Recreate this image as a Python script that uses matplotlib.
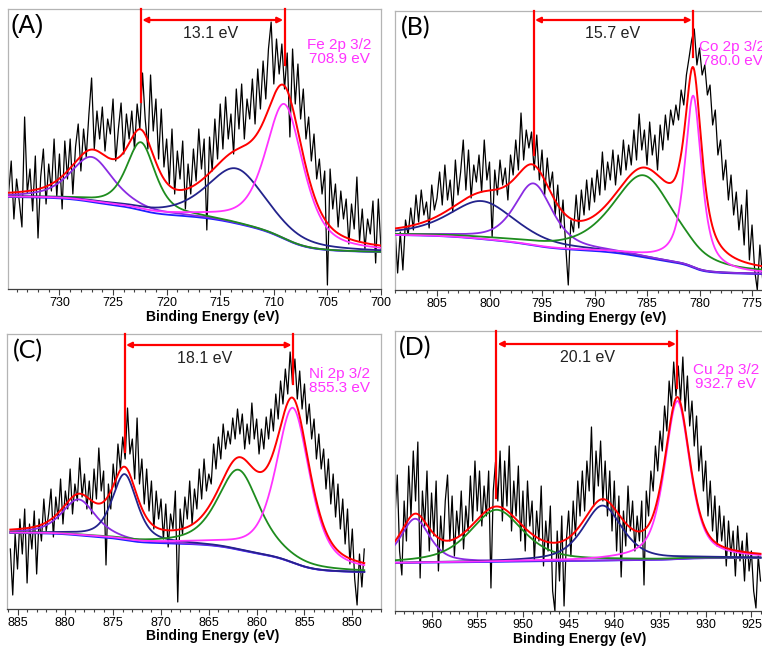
# XPS 2p spectra, four panels
import numpy as np
import matplotlib.pyplot as plt
from matplotlib.ticker import MultipleLocator

plt.rcParams['font.family'] = ['Liberation Sans', 'DejaVu Sans']

# ---- data (intensity in arbitrary units) ----
fe_start = 734.75
fe_step = 0.25
fe_counts = [95, 128, 70, 110, 88, 62, 172, 96, 120, 78, 133, 51, 112, 140, 85, 125,
             98, 150, 92, 135, 80, 148, 110, 150, 95, 142, 165, 118, 160, 132, 175, 211,
             140, 178, 150, 182, 138, 170, 155, 190, 128, 160, 186, 135, 175, 150, 178, 140,
             185, 160, 216, 170, 140, 214, 158, 190, 130, 180, 122, 150, 105, 160, 95, 138,
             110, 148, 80, 125, 95, 140, 108, 160, 120, 150, 59, 152, 118, 170, 130, 185,
             140, 192, 150, 175, 135, 200, 160, 205, 150, 190, 170, 210, 165, 220, 180, 228,
             190, 240, 267, 205, 250, 215, 245, 200, 236, 152, 240, 185, 225, 170, 200, 150,
             172, 128, 155, 110, 130, 95, 118, 4, 120, 80, 105, 62, 98, 70, 90, 45,
             85, 60, 112, 48, 80, 40, 70, 55, 88, 26, 90, 40]
fe_centers = [727.0, 722.4, 713.5, 709.0]
fe_heights = [45, 68, 55, 135]
fe_fwhm = [4.7, 3.2, 6.5, 4.2]
fe_bg = [92, 37]

co_start = 809.0
co_step = 0.25
co_counts = [62, 17, 58, 20, 70, 55, 82, 60, 95, 68, 100, 75, 88, 62, 105, 80,
             92, 118, 85, 125, 90, 110, 78, 130, 95, 118, 150, 100, 140, 92, 125, 108,
             135, 98, 150, 110, 128, 53, 120, 95, 130, 105, 122, 90, 135, 115, 150, 120,
             177, 130, 160, 142, 158, 120, 155, 110, 140, 95, 132, 102, 118, 75, 105, 62,
             90, 45, 5, 70, 58, 95, 62, 100, 75, 110, 80, 112, 88, 120, 95, 138,
             100, 128, 110, 140, 105, 135, 115, 150, 120, 145, 125, 160, 130, 176, 140, 160,
             125, 168, 135, 155, 120, 165, 140, 175, 150, 180, 165, 185, 170, 200, 185, 215,
             232, 250, 261, 225, 242, 215, 225, 195, 205, 165, 180, 135, 150, 110, 130, 90,
             115, 75, 98, 60, 85, 45, 100, 30, 65, 20, 0, 45, 12]
co_centers = [800.7, 795.8, 785.3, 780.6]
co_heights = [38, 62, 82, 172]
co_fwhm = [7.5, 4.3, 7.0, 1.9]
co_bg = [55, 16]

ni_start = 885.75
ni_step = 0.25
ni_counts = [60, 14, 75, 40, 90, 55, 100, 26, 85, 60, 98, 35, 90, 68, 110, 78,
             95, 120, 72, 112, 90, 130, 85, 118, 100, 140, 95, 125, 108, 151, 112, 135,
             100, 128, 95, 140, 110, 161, 118, 138, 44, 125, 100, 145, 120, 165, 140, 172,
             150, 201, 155, 170, 130, 191, 125, 150, 105, 140, 98, 128, 80, 118, 90, 110,
             70, 105, 62, 95, 80, 118, 7, 100, 75, 112, 90, 128, 85, 120, 100, 140,
             110, 150, 118, 135, 125, 165, 140, 172, 150, 185, 160, 178, 165, 191, 170, 200,
             175, 195, 160, 185, 165, 206, 170, 190, 155, 180, 160, 192, 170, 200, 178, 215,
             190, 228, 205, 240, 215, 257, 225, 250, 210, 238, 200, 225, 185, 205, 170, 190,
             150, 175, 140, 160, 120, 150, 105, 135, 92, 125, 80, 110, 65, 100, 45, 80,
             30, 4, 55, 22, 60]
ni_centers = [878.6, 873.8, 861.9, 856.2]
ni_heights = [36, 66, 80, 155]
ni_fwhm = [4.2, 3.1, 5.2, 4.2]
ni_bg = [76, 37]

cu_start = 964.0
cu_step = 0.25
cu_counts = [95, 136, 60, 36, 110, 70, 145, 95, 160, 110, 169, 33, 120, 85, 140, 60,
             118, 75, 130, 40, 95, 60, 110, 136, 70, 115, 55, 100, 75, 120, 62, 105,
             80, 135, 90, 150, 100, 140, 85, 125, 95, 140, 23, 120, 149, 110, 160, 90,
             150, 105, 165, 80, 130, 95, 145, 70, 120, 60, 130, 85, 110, 50, 100, 70,
             125, 45, 90, 60, 105, 20, 0, 80, 30, 95, 5, 70, 100, 55, 110, 75,
             130, 95, 140, 100, 150, 120, 184, 105, 160, 125, 170, 110, 150, 95, 140, 80,
             130, 60, 115, 34, 100, 65, 125, 80, 110, 60, 95, 70, 110, 26, 120, 95,
             140, 120, 165, 140, 180, 160, 205, 180, 230, 205, 249, 215, 245, 210, 254, 200,
             235, 185, 210, 165, 195, 140, 165, 120, 150, 95, 130, 80, 115, 65, 105, 70,
             95, 45, 90, 55, 80, 35, 85, 50, 70, 30, 78, 40, 60, 20, 3, 55, 30]
cu_centers = [961.8, 952.9, 941.3, 933.1]
cu_heights = [44, 52, 55, 158]
cu_fwhm = [3.8, 6.9, 5.1, 3.3]
cu_bg = [48, 53]

purple = '#8a2be2'
green = '#1e8c1e'
navy = '#23238c'
magenta = '#ff33ff'
bgblue = '#2020ff'


def voigt(x, c, h, w, eta=0.6):
    d = (x - c) / w
    return h * (eta / (1 + 4 * d ** 2) + (1 - eta) * np.exp(-4 * np.log(2) * d ** 2))


def shirley(x, total, high, low):
    # x descending; step grows from the low binding-energy side
    xs = x[::-1]
    ys = total[::-1]
    cum = np.concatenate([[0], np.cumsum((ys[1:] + ys[:-1]) / 2 * np.diff(xs))])
    frac = cum / cum[-1]
    return (low + (high - low) * frac)[::-1]


def panel(rect, xlim, ylim, start, step, counts, centers, heights, fwhm, bg, colors,
          eta, xl_center):
    ax = fig.add_axes(rect)
    y = np.array(counts, dtype=float)
    x = start - step * np.arange(len(y))
    xf = np.linspace(x[0], x[-1], 800)
    peaks = [voigt(xf, c, h, w, e) for c, h, w, e in zip(centers, heights, fwhm, eta)]
    back = shirley(xf, np.sum(peaks, axis=0), bg[0], bg[1])
    ax.plot(x, y, color='black', lw=0.9, zorder=2)
    ax.plot(xf, back, color=bgblue, lw=1.3, zorder=3)
    for p, col in zip(peaks, colors):
        ax.plot(xf, back + p, color=col, lw=1.3, zorder=3)
    ax.plot(xf, back + np.sum(peaks, axis=0), color='red', lw=1.4, zorder=4)
    ax.set_xlim(*xlim)
    ax.set_ylim(*ylim)
    ax.set_yticks([])
    ax.xaxis.set_major_locator(MultipleLocator(5))
    ax.xaxis.set_minor_locator(MultipleLocator(1))
    ax.tick_params(axis='x', which='major', direction='out', length=4, width=0.8,
                   labelsize=9, pad=1.5, color='#404040')
    ax.tick_params(axis='x', which='minor', direction='out', length=2.5, width=0.8,
                   color='#404040')
    for s in ['left', 'top', 'right']:
        ax.spines[s].set_color('#b4b4b4')
        ax.spines[s].set_linewidth(0.9)
    ax.spines['bottom'].set_color('#404040')
    ax.spines['bottom'].set_linewidth(0.9)
    ax.set_xlabel('Binding Energy (eV)', fontsize=10, fontweight='bold')
    ax.xaxis.set_label_coords(xl_center, -0.074)
    return ax


def marks(ax, left, right, lo_left, lo_right, top, arrow_y, text, text_xy):
    ax.plot([left, left], [lo_left, top], color='red', lw=1.6, zorder=5, clip_on=False)
    ax.plot([right, right], [lo_right, top], color='red', lw=1.6, zorder=5, clip_on=False)
    ax.annotate('', xy=(right, arrow_y), xytext=(left, arrow_y),
                arrowprops=dict(arrowstyle='<|-|>', color='red', lw=1.6,
                                shrinkA=1, shrinkB=1, mutation_scale=8), zorder=5)
    ax.text(text_xy[0], text_xy[1], text, fontsize=11.5, ha='center', va='center',
            color='#222222')


def label(ax, x, y, text):
    ax.text(x, y, text, color=magenta, fontsize=11, ha='center', va='center',
            linespacing=1.0)


W, H = 762, 647
fig = plt.figure(figsize=(W / 100, H / 100), dpi=100)


def rect(l, r, t, b):
    return [l / W, (H - b) / H, (r - l) / W, (b - t) / H]


ax_a = panel(rect(8, 381, 9, 289), (734.8, 700.0), (0, 280), fe_start, fe_step, fe_counts,
             fe_centers, fe_heights, fe_fwhm, fe_bg, [purple, green, navy, magenta],
             [0.6, 0.6, 0.6, 0.6], 0.55)
marks(ax_a, fe_centers[1], fe_centers[3], 187, 224, 280, 269, '13.1 eV', (715.9, 256))
label(ax_a, 703.9, 237, 'Fe 2p 3/2\n708.9 eV')
ax_a.text(0.008, 0.94, '(A)', transform=ax_a.transAxes, fontsize=18, ha='left',
          va='center')

ax_b = panel(rect(395, 766, 11, 290), (809.0, 773.67), (0, 279), co_start, co_step,
             co_counts, co_centers, co_heights, co_fwhm, co_bg,
             [navy, purple, green, magenta], [0.6, 0.6, 0.6, 0.75], 0.553)
marks(ax_b, co_centers[1], co_centers[3], 135, 233, 279, 270, '15.7 eV', (788.3, 257))
label(ax_b, 776.9, 236, 'Co 2p 3/2\n780.0 eV')
ax_b.text(0.016, 0.94, '(B)', transform=ax_b.transAxes, fontsize=18, ha='left',
          va='center', family=['Lato', 'DejaVu Sans'])

ax_c = panel(rect(7, 381, 334, 609), (886.1, 847.0), (0, 275), ni_start, ni_step,
             ni_counts, ni_centers, ni_heights, ni_fwhm, ni_bg,
             [purple, navy, green, magenta], [0.6, 0.6, 0.6, 0.6], 0.55)
marks(ax_c, ni_centers[1], ni_centers[3], 157, 225, 275, 264, '18.1 eV', (865.4, 251))
label(ax_c, 851.3, 228, 'Ni 2p 3/2\n855.3 eV')
ax_c.text(0.016, 0.94, '(C)', transform=ax_c.transAxes, fontsize=18, ha='left',
          va='center', family=['Lato', 'DejaVu Sans'])

ax_d = panel(rect(395, 766, 331, 611), (964.0, 923.4), (0, 280), cu_start, cu_step,
             cu_counts, cu_centers, cu_heights, cu_fwhm, cu_bg,
             [purple, green, navy, magenta], [0.6, 0.6, 0.6, 0.6], 0.498)
marks(ax_d, cu_centers[1], cu_centers[3], 113, 223, 280, 267, '20.1 eV', (942.9, 253))
label(ax_d, 927.8, 234, 'Cu 2p 3/2\n932.7 eV')
ax_d.text(0.01, 0.94, '(D)', transform=ax_d.transAxes, fontsize=18, ha='left',
          va='center', family=['Lato', 'DejaVu Sans'])

fig.savefig('out.png', dpi=100)
